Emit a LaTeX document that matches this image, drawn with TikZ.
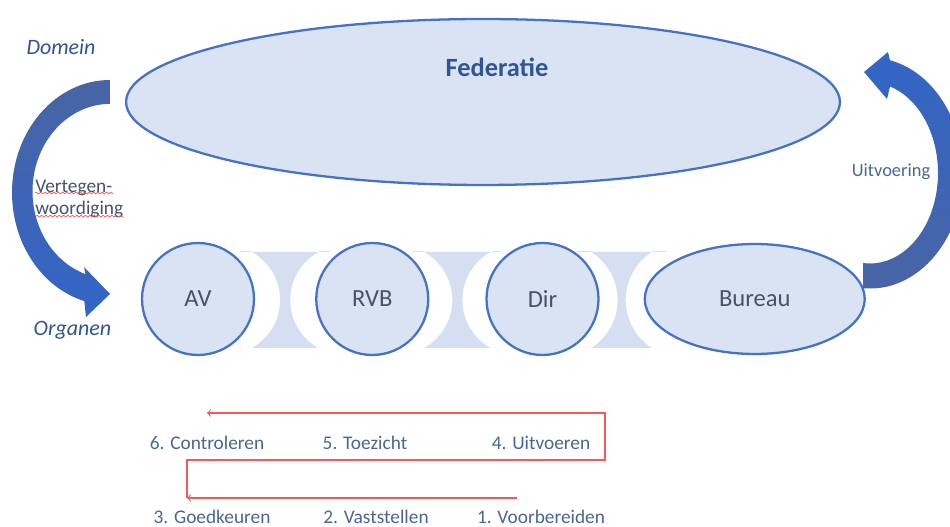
\documentclass[tikz,border=0pt]{standalone}
\usepackage{fontspec}
\setmainfont{Carlito}
\usepackage{xcolor}
\usepackage{tikz}
\usetikzlibrary{shapes.geometric, arrows, positioning, calc, decorations.pathmorphing}
\definecolor{accentblue}{RGB}{68, 114, 196}
\definecolor{paleblue}{RGB}{218, 227, 243}
\definecolor{linkblue}{RGB}{214, 223, 241}
\definecolor{slateblue}{RGB}{68, 84, 106}
\definecolor{deepblue}{RGB}{47, 85, 151}
\definecolor{stepblue}{RGB}{74, 102, 148}
\definecolor{arrowdull}{RGB}{72, 101, 164}
\definecolor{arrowbright}{RGB}{50, 101, 199}
\definecolor{flowred}{RGB}{244, 88, 90}

\begin{document}
\begin{tikzpicture}[
    x=0.02cm, y=0.02cm,
    node distance=1.2cm,
    organ/.style={circle, draw=accentblue, line width=1.3pt, fill=paleblue, minimum size=2.24cm, inner sep=0pt, text=slateblue, font=\fontsize{14}{17}\selectfont},
    fed/.style={ellipse, draw=accentblue, line width=1.3pt, fill=paleblue, minimum width=14.28cm, minimum height=3.32cm},
    link/.style={fill=linkblue, even odd rule},
    steptext/.style={text=stepblue, font=\fontsize{11}{13}\selectfont},
    side/.style={text=deepblue, font=\fontsize{12.5}{15}\selectfont\itshape},
    flow/.style={->, draw=flowred, line width=0.6pt}
]
    \useasboundingbox[fill=white] (0,0) rectangle (950,527);

    % domein
    \node[fed] (fed) at (483,425) {};
    \node[text=deepblue, font=\fontsize{15}{18}\selectfont\bfseries] (fedlbl) at (497,460) {Federatie};

    % organen
    \node[organ] (av) at (198,228) {AV};
    \node[organ, right=1.2cm of av] (rvb) {RVB};
    \node[organ, right=1.12cm of rvb] (dir) {Dir};
    \node[organ, ellipse, minimum width=4.4cm, minimum height=2.2cm, right=0.88cm of dir] (bur) {Bureau};

    % links between the organen
    \foreach \l/\r/\d/\rad in {av/rvb/60/55, rvb/dir/60/55, dir/bur/61/57} {
        \coordinate (m) at ($(\l.east)!0.5!(\r.west)+(0,-1)$);
        \begin{scope}
            \clip ($(m)+(-45,-48)$) rectangle ($(m)+(45,48)$);
            \fill[link] ($(m)+(-45,-48)$) rectangle ($(m)+(45,48)$)
                ($(m)+(-\d,0)$) circle[radius=\rad] ($(m)+(\d,0)$) circle[radius=\rad];
        \end{scope}
    }

    % side labels
    \node[side] (dom) at (61,480) {Domein};
    \node[side] (org) at (72.5,197) {Organen};
    \node[text=slateblue, font=\fontsize{11}{13}\selectfont, align=left, anchor=west, inner sep=0pt] (vert) at (35,328) {Vertegen-\\woordiging};
    \draw[flowred, line width=0.4pt, decorate, decoration={snake, amplitude=0.5pt, segment length=2.5pt}]
        (35,334) -- (113,334) (35,310) -- (124,310);
    \node[steptext, font=\fontsize{10.5}{13}\selectfont] (uit) at (891,355) {Uitvoering};

    % curved arrows
    \shade[top color=arrowdull, bottom color=arrowbright]
        (110,447) arc[start angle=90, end angle=254.8, x radius=98, y radius=112.5]
        -- (86,210) -- (110,233) -- (84,260) -- (85.5,252.8)
        arc[start angle=251.3, end angle=90, x radius=78, y radius=87.5] -- cycle;
    \shade[top color=arrowbright, bottom color=arrowdull]
        (863,238.8) arc[start angle=265.7, end angle=437.6, x radius=93, y radius=115.5]
        -- (888,475) -- (864,455) -- (887,428) -- (890,440.5)
        arc[start angle=72.9, end angle=-95.9, x radius=68, y radius=90.5] -- cycle;

    % steps
    \node[steptext] (s6) at (207,84) {6. Controleren};
    \node[steptext] (s5) at (365,84) {5. Toezicht};
    \node[steptext] (s4) at (541,84) {4. Uitvoeren};
    \node[steptext] (s3) at (212,10) {3. Goedkeuren};
    \node[steptext] (s2) at (376,10) {2. Vaststellen};
    \node[steptext] (s1) at (541,10) {1. Voorbereiden};

    \coordinate (f1) at (517,29);
    \coordinate (f3) at (187,29);
    \coordinate (f4) at (605,114);
    \coordinate (f6) at (207,114);
    \draw[flow] (f1) -- (f3);
    \draw[flow] (f3) -- ++(0,38) -| (f4) -- (f6);
\end{tikzpicture}
\end{document}
